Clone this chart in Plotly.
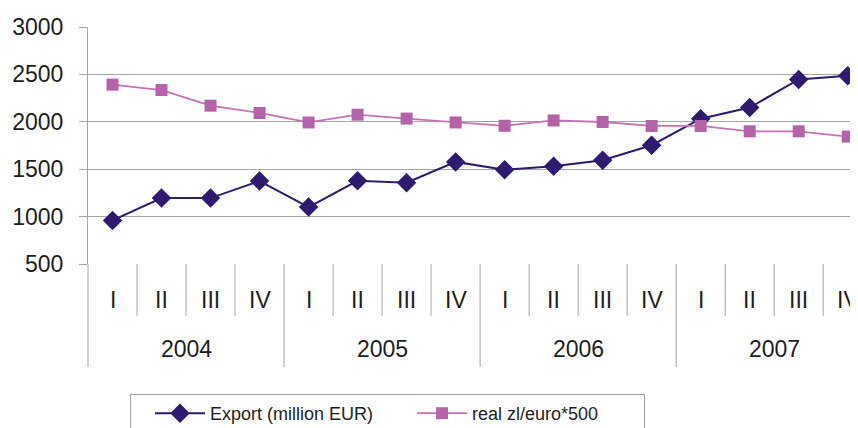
import plotly.graph_objects as go

years = ["2004", "2005", "2006", "2007"]
quarters = ["I", "II", "III", "IV"]
series_names = ["Export (million EUR)", "real zl/euro*500"]
export_vals = [960, 1195, 1195, 1375, 1100, 1378, 1357, 1577, 1495, 1532, 1595, 1753, 2033, 2150, 2447, 2486]
zl_vals = [2392, 2335, 2170, 2093, 1993, 2075, 2034, 1993, 1958, 2014, 1998, 1956, 1956, 1900, 1900, 1844]

FONT = "Arial, Liberation Sans, sans-serif"
GRID = "#A6A6A6"
C_EXP = "#2E1A6E"
C_ZL = "#B563A8"
C_ZL_LINE = "#C474B6"
TXT = "#1E1E1E"
NB = "\u00a0"

n = len(export_vals)
x = list(range(n))
labels = [f"{q} {y}" for y in years for q in quarters]

fig = go.Figure()
fig.add_trace(go.Scatter(
    x=x, y=export_vals, name=series_names[0] + NB * 3, mode="lines+markers",
    line=dict(color=C_EXP, width=2),
    marker=dict(symbol="diamond", size=15, color=C_EXP),
    text=labels, hoverinfo="text+y",
))
fig.add_trace(go.Scatter(
    x=x, y=zl_vals, name=series_names[1] + NB * 8, mode="lines+markers",
    line=dict(color=C_ZL_LINE, width=1.8),
    marker=dict(symbol="square", size=12, color=C_ZL),
    text=labels, hoverinfo="text+y",
))

H_PLOT = 237.0
def py(px_below):
    # paper y for a point px_below pixels below the plot bottom
    return -px_below / H_PLOT

shapes = []
annotations = []
nq = len(quarters)
for i in range(n):
    annotations.append(dict(x=i, y=py(36), xref="x", yref="paper", text=quarters[i % nq],
                            showarrow=False, font=dict(family=FONT, size=23, color=TXT),
                            xanchor="center", yanchor="middle"))
for i in range(1, n):
    if i % nq == 0:
        continue
    shapes.append(dict(type="line", xref="x", yref="paper", x0=i - 0.5, x1=i - 0.5,
                       y0=0, y1=py(52), line=dict(color=GRID, width=1)))
for k, yr in enumerate(years):
    c = k * nq + (nq - 1) / 2
    annotations.append(dict(x=c, y=py(85), xref="x", yref="paper", text=yr,
                            showarrow=False, font=dict(family=FONT, size=23, color=TXT),
                            xanchor="center", yanchor="middle"))
    if k > 0:
        shapes.append(dict(type="line", xref="x", yref="paper", x0=k * nq - 0.5, x1=k * nq - 0.5,
                           y0=0, y1=py(103), line=dict(color=GRID, width=1)))
shapes.append(dict(type="line", xref="paper", yref="paper", x0=0, x1=0,
                   y0=0, y1=py(103), line=dict(color=GRID, width=1)))

fig.update_layout(
    width=850, height=460,
    margin=dict(l=80, r=0, t=19, b=204),
    plot_bgcolor="white", paper_bgcolor="white",
    font=dict(family=FONT, size=23, color=TXT),
    xaxis=dict(range=[-0.5, 15.21], showgrid=False, zeroline=False, showticklabels=False,
               ticks="", showline=False, fixedrange=True),
    yaxis=dict(range=[500, 3000], tickvals=[500, 1000, 1500, 2000, 2500, 3000],
               showgrid=True, gridcolor=GRID, gridwidth=1, zeroline=False,
               showline=True, linecolor=GRID, linewidth=1,
               ticks="outside", ticklen=8, tickcolor=GRID, ticklabelstandoff=11,
               tickfont=dict(family=FONT, size=23, color=TXT)),
    shapes=shapes,
    annotations=annotations,
    showlegend=True,
    legend=dict(orientation="h", x=42 / 770, y=py(130), xanchor="left", yanchor="top",
                bordercolor="#A0A0A0", borderwidth=1, bgcolor="white",
                font=dict(family=FONT, size=18, color=TXT),
                itemwidth=50, indentation=19),
)

fig.write_html("out.html")
